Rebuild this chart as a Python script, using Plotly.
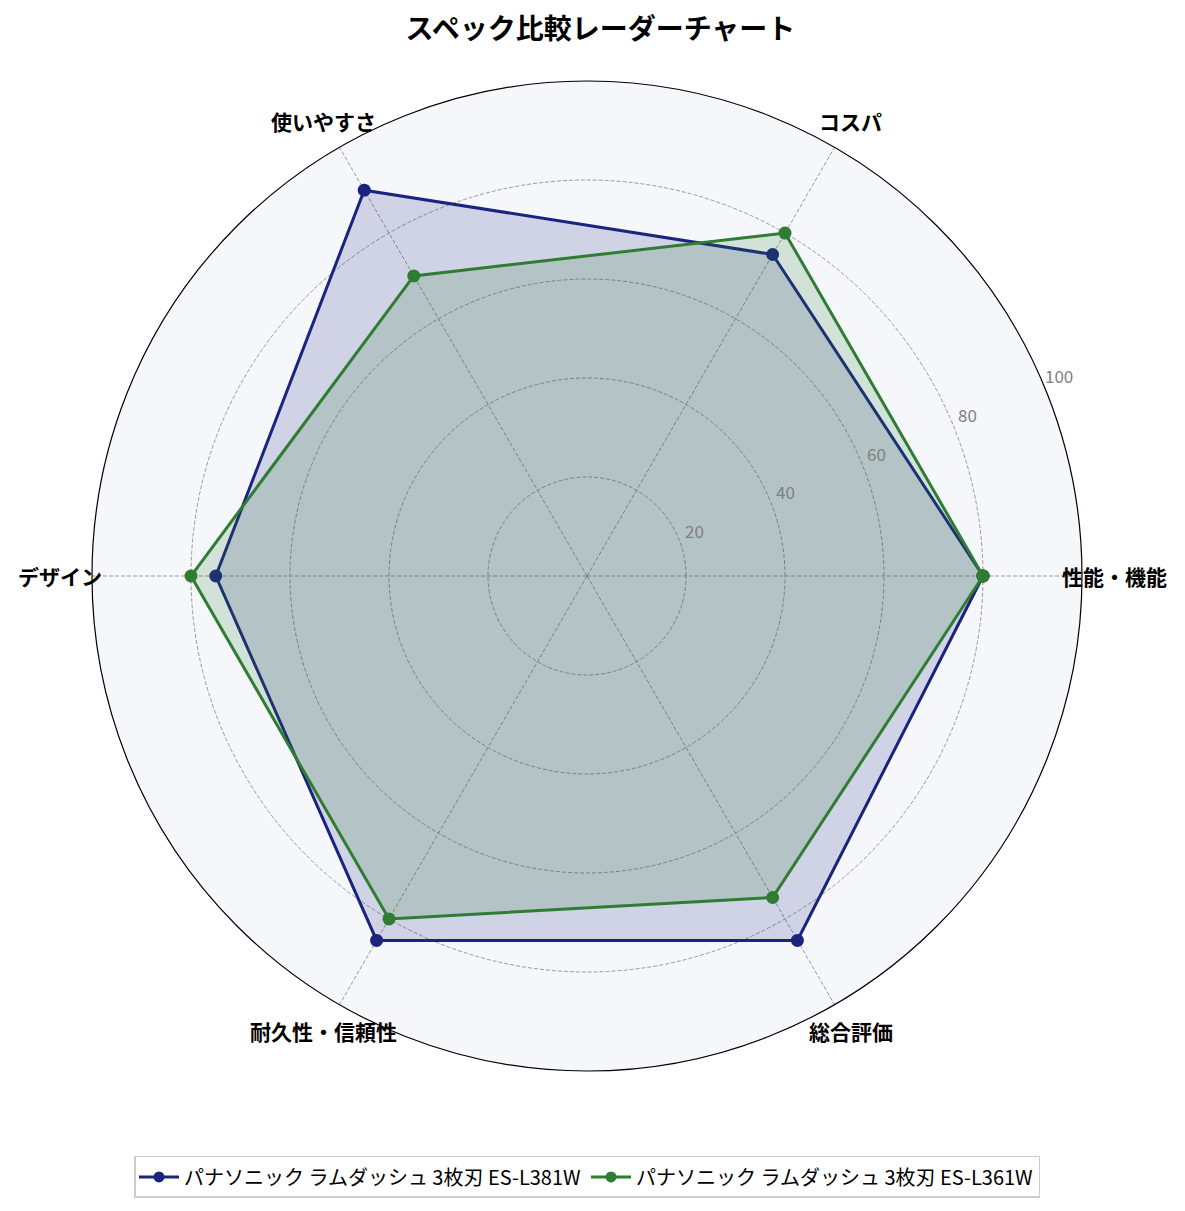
import math
import plotly.graph_objects as go

categories = ["性能・機能", "コスパ", "使いやすさ", "デザイン", "耐久性・信頼性", "総合評価"]
l381w = [80, 75, 90, 75, 85, 85]
l361w = [80, 80, 70, 80, 80, 75]
names = ["パナソニック ラムダッシュ 3枚刃 ES-L381W", "パナソニック ラムダッシュ 3枚刃 ES-L361W"]
radial_ticks = [20, 40, 60, 80, 100]

line_colors = ["#1a237e", "#2e7d32"]
fill_colors = ["rgba(26,35,126,0.17)", "rgba(46,125,50,0.17)"]

fig = go.Figure()
for vals, name, lc, fc in zip([l381w, l361w], names, line_colors, fill_colors):
    fig.add_trace(go.Scatterpolar(
        r=vals + vals[:1],
        theta=categories + categories[:1],
        name=name, legendgroup=name, showlegend=False,
        mode="lines+markers",
        fill="toself",
        fillcolor=fc,
        line=dict(color=lc, width=3),
        marker=dict(color=lc, size=13),
    ))
# legend entries: line + marker only, no fill swatch
for name, lc in zip(names, line_colors):
    fig.add_trace(go.Scatterpolar(
        r=[None], theta=[categories[0]], name=name, legendgroup=name,
        mode="lines+markers", line=dict(color=lc, width=3),
        marker=dict(color=lc, size=11),
    ))

# category labels just outside the outer ring
for i, cat in enumerate(categories):
    ang = 2 * math.pi * i / len(categories)
    fig.add_annotation(
        text=f"<b>{cat}</b>", xref="paper", yref="paper",
        x=0.5 + 0.5 * 1.065 * math.cos(ang), y=0.5 + 0.5 * 1.062 * math.sin(ang),
        xanchor="center", yanchor="middle", showarrow=False,
        font=dict(size=21, color="black"),
    )

# radial tick labels along the 22.5 degree ray
for v in radial_ticks:
    rf = v / 100 + 0.035
    a = math.radians(23)
    fig.add_annotation(
        text=str(v), xref="paper", yref="paper",
        x=0.5 + 0.5 * rf * math.cos(a), y=0.5 + 0.5 * rf * math.sin(a),
        xanchor="center", yanchor="middle", showarrow=False,
        font=dict(size=17, color="#808080"),
    )

fig.update_layout(
    width=1185, height=1211,
    paper_bgcolor="white",
    font=dict(family="Noto Sans CJK JP", color="black"),
    margin=dict(l=84, r=111, t=73, b=148),
    title=dict(text="<b>スペック比較レーダーチャート</b>", x=0.5, xanchor="center",
               y=1 - 21 / 1211, yanchor="middle", font=dict(size=28)),
    polar=dict(
        bgcolor="#f5f7fa",
        domain=dict(x=[0, 1], y=[0, 1]),
        angularaxis=dict(
            rotation=0, direction="counterclockwise",
            showline=True, linecolor="black", linewidth=1.2,
            gridcolor="#999999", griddash="4px,2px", gridwidth=0.8,
            ticks="", showticklabels=False,
        ),
        radialaxis=dict(
            range=[0, 100], tickvals=radial_ticks, angle=22.5,
            showline=False, ticks="", showticklabels=False,
            gridcolor="#999999", griddash="4px,2px", gridwidth=0.8,
        ),
    ),
    legend=dict(
        orientation="h", x=0.5, xanchor="center", y=-0.107, yanchor="middle",
        bordercolor="#cccccc", borderwidth=1.5, font=dict(size=20),
        bgcolor="white", itemwidth=40,
    ),
)

fig.write_html("out.html")
